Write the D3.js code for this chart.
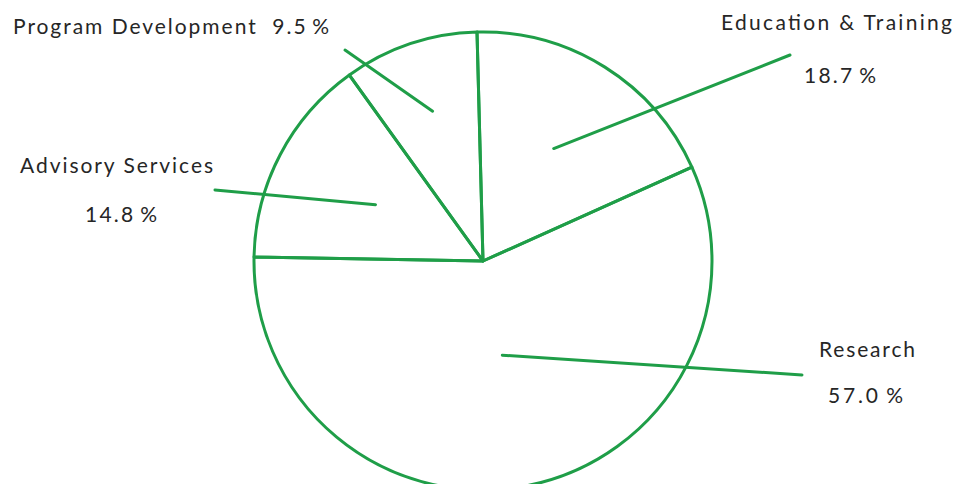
<!DOCTYPE html>
<html><head><meta charset="utf-8">
<script src="https://cdn.jsdelivr.net/npm/d3@7"></script>
<style>html,body{margin:0;padding:0;background:#fff;}svg{display:block;}</style>
</head><body>
<svg id="c" width="968" height="484"></svg>
<script>
const categories = ["Education & Training", "Research", "Advisory Services", "Program Development"];
const values = [18.7, 57.0, 14.8, 9.5];
const valueLabels = ["18.7\u2009%", "57.0\u2009%", "14.8\u2009%", "9.5\u2009%"];

const W = 968, H = 484;
const cx = 483, cy = 261, R = 229;
const green = "#1f9e48";
const svg = d3.select("#c");
const g = svg.append("g").attr("transform", `translate(${cx},${cy})`);

const startA = -1.5 * Math.PI / 180;
const pie = d3.pie().sort(null).startAngle(startA).endAngle(startA + 2 * Math.PI);
const arcs = pie(values);
const arc = d3.arc().innerRadius(0).outerRadius(R);

g.selectAll("path.slice").data(arcs).enter().append("path")
  .attr("class", "slice")
  .attr("d", arc)
  .attr("fill", "none")
  .attr("stroke", green)
  .attr("stroke-width", 3)
  .attr("stroke-linejoin", "round");

// label layout (annotation placement)
const layout = [
  { inner: 0.58, outer: [790, 55], name: [721, 30, 231], pct: [804, 83, 72] },
  { inner: 0.42, outer: [802, 375], name: [819, 357, 96], pct: [828, 403, 75] },
  { inner: 0.53, outer: [215, 190], name: [20, 173, 193], pct: [85, 222, 72] },
  { inner: 0.69, outer: [345, 50], name: [13, 34, 316], pct: null }
];

const font = "Lato, 'DejaVu Sans', sans-serif";
arcs.forEach((a, i) => {
  const L = layout[i];
  const mid = (a.startAngle + a.endAngle) / 2;
  const r = R * L.inner;
  const x1 = cx + r * Math.sin(mid), y1 = cy - r * Math.cos(mid);
  svg.append("line")
    .attr("x1", x1).attr("y1", y1)
    .attr("x2", L.outer[0]).attr("y2", L.outer[1])
    .attr("stroke", green).attr("stroke-width", 3).attr("stroke-linecap", "round");
  const nameText = L.pct ? categories[i] : categories[i] + "  " + valueLabels[i];
  svg.append("text")
    .attr("x", L.name[0]).attr("y", L.name[1])
    .attr("textLength", L.name[2]).attr("lengthAdjust", "spacing")
    .attr("font-family", font)
    .attr("font-size", 21).attr("fill", "#262626")
    .style("white-space", "pre")
    .text(nameText);
  if (L.pct) {
    svg.append("text")
      .attr("x", L.pct[0]).attr("y", L.pct[1])
      .attr("textLength", L.pct[2]).attr("lengthAdjust", "spacing")
      .attr("font-family", font)
      .attr("font-size", 21).attr("fill", "#262626")
      .style("white-space", "pre")
      .text(valueLabels[i]);
  }
});
</script>
</body></html>
